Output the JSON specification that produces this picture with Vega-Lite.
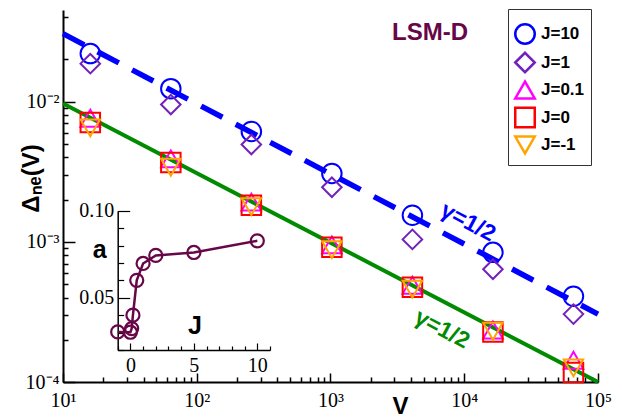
{
  "$schema": "https://vega.github.io/schema/vega-lite/v6.json",
  "width": 535,
  "height": 372,
  "autosize": {"type": "none"},
  "padding": {"left": 63, "top": 10, "right": 24, "bottom": 37},
  "config": {
    "view": {"stroke": null},
    "axis": {
      "grid": false,
      "domainColor": "black",
      "tickColor": "black",
      "labelColor": "black",
      "labelFont": "Liberation Serif",
      "labelFontSize": 20,
      "titleFont": "Liberation Sans",
      "titleFontWeight": "bold",
      "titleColor": "black"
    }
  },
  "datasets": {
    "main": [
      {"V": 16, "J": "10", "d": 0.0220},
      {"V": 64, "J": "10", "d": 0.01237},
      {"V": 256, "J": "10", "d": 0.00612},
      {"V": 1024, "J": "10", "d": 0.00307},
      {"V": 4096, "J": "10", "d": 0.001546},
      {"V": 16384, "J": "10", "d": 0.000841},
      {"V": 65536, "J": "10", "d": 0.000409},
      {"V": 16, "J": "1", "d": 0.01864},
      {"V": 64, "J": "1", "d": 0.00952},
      {"V": 256, "J": "1", "d": 0.00494},
      {"V": 1024, "J": "1", "d": 0.00245},
      {"V": 4096, "J": "1", "d": 0.00104},
      {"V": 16384, "J": "1", "d": 0.000637},
      {"V": 65536, "J": "1", "d": 0.000305},
      {"V": 16, "J": "0.1", "d": 0.0076},
      {"V": 64, "J": "0.1", "d": 0.0039},
      {"V": 256, "J": "0.1", "d": 0.00192},
      {"V": 1024, "J": "0.1", "d": 0.00095},
      {"V": 4096, "J": "0.1", "d": 0.00049},
      {"V": 16384, "J": "0.1", "d": 0.000235},
      {"V": 65536, "J": "0.1", "d": 0.000143},
      {"V": 16, "J": "0", "d": 0.0071},
      {"V": 64, "J": "0", "d": 0.00368},
      {"V": 256, "J": "0", "d": 0.00182},
      {"V": 1024, "J": "0", "d": 0.000914},
      {"V": 4096, "J": "0", "d": 0.000474},
      {"V": 16384, "J": "0", "d": 0.000227},
      {"V": 65536, "J": "0", "d": 0.000117},
      {"V": 16, "J": "-1", "d": 0.0065},
      {"V": 64, "J": "-1", "d": 0.0034},
      {"V": 256, "J": "-1", "d": 0.00178},
      {"V": 1024, "J": "-1", "d": 0.00088},
      {"V": 4096, "J": "-1", "d": 0.00046},
      {"V": 16384, "J": "-1", "d": 0.00023},
      {"V": 65536, "J": "-1", "d": 0.000126}
    ],
    "fits": [
      {"fit": "upper", "V": 10, "d": 0.0305},
      {"fit": "upper", "V": 100000, "d": 0.000305},
      {"fit": "lower", "V": 10, "d": 0.0097},
      {"fit": "lower", "V": 100000, "d": 0.0001}
    ],
    "notes": [
      {"kind": "upper", "V": 10670, "d": 0.00138, "label": "γ=1/2"},
      {"kind": "lower", "V": 6820, "d": 0.000238, "label": "γ=1/2"},
      {"kind": "tag", "V": 5546, "d": 0.031, "label": "LSM-D"}
    ],
    "inset": [
      {"J": -1, "a": 0.0304},
      {"J": 0, "a": 0.0302},
      {"J": 0.1, "a": 0.0323},
      {"J": 0.2, "a": 0.040},
      {"J": 0.5, "a": 0.060},
      {"J": 1, "a": 0.0697},
      {"J": 2, "a": 0.0743},
      {"J": 5, "a": 0.076},
      {"J": 10, "a": 0.0827}
    ],
    "insetNotes": [
      {"J": -2.42, "a": 0.0774, "label": "a"},
      {"J": 5.09, "a": 0.0338, "label": "J"}
    ]
  },
  "layer": [
    {
      "layer": [
        {
          "data": {"name": "fits"},
          "transform": [{"filter": "datum.fit == 'upper'"}],
          "mark": {"type": "line", "color": "#0000ff", "strokeWidth": 5.5, "strokeDash": [24, 15]},
          "encoding": {
            "x": {
              "field": "V", "type": "quantitative",
              "scale": {"type": "log", "domain": [10, 100000], "nice": false},
              "axis": {
                "orient": "bottom",
                "values": [10, 20, 30, 40, 50, 60, 70, 80, 90, 100, 200, 300, 400, 500, 600, 700, 800, 900, 1000, 2000, 3000, 4000, 5000, 6000, 7000, 8000, 9000, 10000, 20000, 30000, 40000, 50000, 60000, 70000, 80000, 90000, 100000],
                "labelExpr": "datum.value == 10 ? '10¹' : datum.value == 100 ? '10²' : datum.value == 1000 ? '10³' : datum.value == 10000 ? '10⁴' : datum.value == 100000 ? '10⁵' : ''",
                "tickSize": {"condition": {"test": "indexof([10, 100, 1000, 10000, 100000], datum.value) >= 0", "value": -9}, "value": -5},
                "tickWidth": 1.5,
                "domainWidth": 2,
                "labelPadding": 17,
                "labelFlush": false,
                "labelOverlap": false,
                "title": "V",
                "titleFontSize": 24,
                "titleX": 337,
                "titleY": 31,
                "titleBaseline": "alphabetic",
                "titleAnchor": null
              }
            },
            "y": {
              "field": "d", "type": "quantitative",
              "scale": {"type": "log", "domain": [0.0001, 0.045], "nice": false},
              "axis": {
                "orient": "left",
                "values": [0.0001, 0.0002, 0.0003, 0.0004, 0.0005, 0.0006, 0.0007, 0.0008, 0.0009, 0.001, 0.002, 0.003, 0.004, 0.005, 0.006, 0.007, 0.008, 0.009, 0.01, 0.02, 0.03, 0.04],
                "labelExpr": "datum.value == 0.0001 ? '10⁻⁴' : datum.value == 0.001 ? '10⁻³' : datum.value == 0.01 ? '10⁻²' : ''",
                "tickSize": {"condition": {"test": "indexof([0.0001, 0.001, 0.01], datum.value) >= 0", "value": -12}, "value": -5},
                "tickWidth": 1.5,
                "domainWidth": 2,
                "labelPadding": 16,
                "labelFlush": false,
                "labelOverlap": false,
                "title": "Δₙₑ(V)",
                "titleFontSize": 24,
                "titleAngle": -90,
                "titleX": -25,
                "titleY": 168,
                "titleAlign": "center",
                "titleBaseline": "alphabetic",
                "titleAnchor": null
              }
            }
          }
        },
        {
          "data": {"name": "fits"},
          "transform": [{"filter": "datum.fit == 'lower'"}],
          "mark": {"type": "line", "color": "#008b00", "strokeWidth": 4},
          "encoding": {
            "x": {"field": "V", "type": "quantitative"},
            "y": {"field": "d", "type": "quantitative"}
          }
        },
        {
          "data": {"name": "main"},
          "mark": {"type": "point", "filled": false, "size": 380, "strokeWidth": 2, "opacity": 1},
          "encoding": {
            "x": {"field": "V", "type": "quantitative"},
            "y": {"field": "d", "type": "quantitative"},
            "color": {
              "field": "J", "type": "nominal",
              "scale": {"domain": ["10", "1", "0.1", "0", "-1"], "range": ["#0000ff", "#7221bc", "#ff00ff", "#ff0000", "#ffa500"]},
              "legend": {
                "orient": "none",
                "legendX": 445,
                "legendY": -1,
                "title": " ",
                "titleFontSize": 4,
                "titlePadding": 4,
                "labelExpr": "'J=' + datum.label",
                "labelFont": "Liberation Sans",
                "labelFontWeight": "bold",
                "labelFontSize": 17,
                "labelColor": "black",
                "labelOffset": 5,
                "symbolSize": 380,
                "symbolStrokeWidth": 2.5,
                "symbolOpacity": 1,
                "symbolFillColor": "transparent",
                "rowPadding": -1.5,
                "padding": 6,
                "strokeColor": "#333333",
                "fillColor": "white"
              }
            },
            "shape": {
              "field": "J", "type": "nominal",
              "scale": {"domain": ["10", "1", "0.1", "0", "-1"], "range": ["circle", "diamond", "triangle-up", "square", "triangle-down"]},
              "legend": null
            }
          }
        },
        {
          "data": {"name": "notes"},
          "transform": [{"filter": "datum.kind == 'upper'"}],
          "mark": {"type": "text", "color": "#0000ff", "font": "Liberation Sans", "fontWeight": "bold", "fontSize": 23, "angle": 28, "align": "center", "baseline": "middle"},
          "encoding": {
            "x": {"field": "V", "type": "quantitative"},
            "y": {"field": "d", "type": "quantitative"},
            "text": {"field": "label"}
          }
        },
        {
          "data": {"name": "notes"},
          "transform": [{"filter": "datum.kind == 'lower'"}],
          "mark": {"type": "text", "color": "#008b00", "font": "Liberation Sans", "fontWeight": "bold", "fontSize": 23, "angle": 28, "align": "center", "baseline": "middle"},
          "encoding": {
            "x": {"field": "V", "type": "quantitative"},
            "y": {"field": "d", "type": "quantitative"},
            "text": {"field": "label"}
          }
        },
        {
          "data": {"name": "notes"},
          "transform": [{"filter": "datum.kind == 'tag'"}],
          "mark": {"type": "text", "color": "#670748", "font": "Liberation Sans", "fontWeight": "bold", "fontSize": 24, "align": "center", "baseline": "middle"},
          "encoding": {
            "x": {"field": "V", "type": "quantitative"},
            "y": {"field": "d", "type": "quantitative"},
            "text": {"field": "label"}
          }
        }
      ]
    },
    {
      "layer": [
        {
          "data": {"name": "inset"},
          "mark": {"type": "line", "color": "#670748", "strokeWidth": 2.5},
          "encoding": {
            "x": {
              "field": "J", "type": "quantitative",
              "scale": {"domain": [-1, 11], "range": [54.7, 207], "nice": false, "zero": false},
              "axis": {
                "orient": "bottom",
                "offset": -32,
                "values": [-1, 0, 1, 2, 3, 4, 5, 6, 7, 8, 9, 10, 11],
                "labelExpr": "datum.value == 0 || datum.value == 5 || datum.value == 10 ? datum.label : ''",
                "tickSize": {"condition": {"test": "datum.value == 0 || datum.value == 5 || datum.value == 10", "value": -7}, "value": -4},
                "tickWidth": 1.2,
                "domainWidth": 1.5,
                "labelPadding": 12,
                "labelFlush": false,
                "labelOverlap": false,
                "title": null
              }
            },
            "y": {
              "field": "a", "type": "quantitative",
              "scale": {"domain": [0.02, 0.10], "range": [340, 200.7], "nice": false, "zero": false},
              "axis": {
                "orient": "left",
                "offset": -54.7,
                "values": [0.02, 0.03, 0.04, 0.05, 0.06, 0.07, 0.08, 0.09, 0.1],
                "labelExpr": "datum.value == 0.05 || datum.value == 0.1 ? format(datum.value, '.2f') : ''",
                "tickSize": {"condition": {"test": "datum.value == 0.05 || datum.value == 0.1", "value": -12}, "value": -6},
                "tickWidth": 1.2,
                "domainWidth": 1.5,
                "labelPadding": 16,
                "labelFlush": false,
                "labelOverlap": false,
                "title": null
              }
            }
          }
        },
        {
          "data": {"name": "inset"},
          "mark": {"type": "point", "shape": "circle", "filled": false, "color": "#670748", "size": 170, "strokeWidth": 2.2, "opacity": 1},
          "encoding": {
            "x": {"field": "J", "type": "quantitative"},
            "y": {"field": "a", "type": "quantitative"}
          }
        },
        {
          "data": {"name": "insetNotes"},
          "mark": {"type": "text", "color": "black", "font": "Liberation Sans", "fontWeight": "bold", "fontSize": 25, "align": "center", "baseline": "middle"},
          "encoding": {
            "x": {"field": "J", "type": "quantitative"},
            "y": {"field": "a", "type": "quantitative"},
            "text": {"field": "label"}
          }
        }
      ]
    }
  ],
  "resolve": {
    "scale": {"x": "independent", "y": "independent"},
    "axis": {"x": "independent", "y": "independent"}
  }
}
